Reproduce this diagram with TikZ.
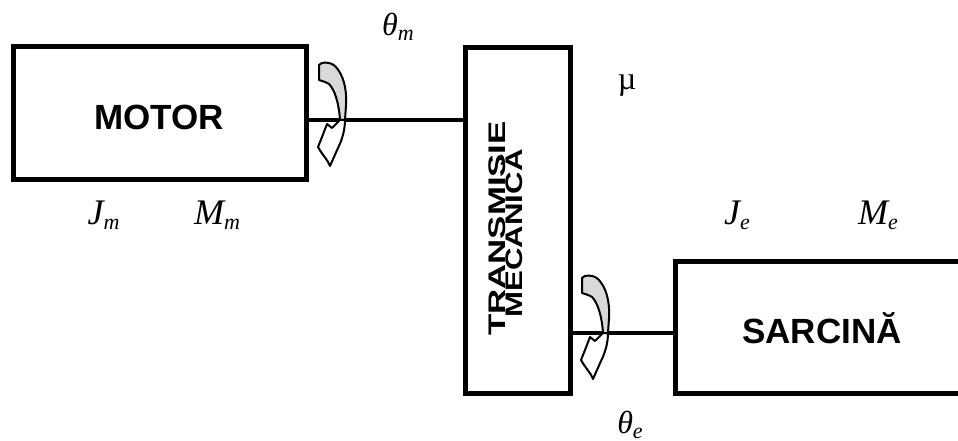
\documentclass[tikz,border=0pt]{standalone}
\usepackage{fontspec}
\newfontfamily\boxfont{Liberation Sans}
\newfontfamily\lserif{Liberation Serif}
\newcommand\qlbl[3]{{\lserif\itshape\fontsize{#1}{#1}\selectfont #2\raisebox{-5pt}{\fontsize{22}{22}\selectfont #3}}}
\tikzset{
  twistarrow/.pic={
    \filldraw[twist, fill=black!15] (-26,-55) .. controls (-24,-58) and (-16,-59) .. (-10,-54) .. controls (-2,-46) and (2,-32) .. (1,-15) -- (0,0) -- (-5,0) .. controls (-6,-16) and (-10,-30) .. (-16,-36) .. controls (-19,-38) and (-23,-39) .. (-26,-40) -- cycle;
    \filldraw[twist, fill=white] (0,0) .. controls (0,10) and (-3,20) .. (-7,28) -- (-15,46) .. controls (-17,40) and (-22,36) .. (-27,27) -- (-23,17) -- (-18,4) -- (-13,8) -- (-5,0) -- cycle;
  }
}
\begin{document}
\begin{tikzpicture}[x=1pt,y=-1pt,
  box/.style={draw, line width=5pt, inner sep=0pt},
  shaft/.style={line width=3.8pt},
  boxlabel/.style={font=\boxfont\bfseries\fontsize{35}{40}\selectfont, inner sep=0pt, anchor=base},
  translabel/.style={font=\boxfont\bfseries\fontsize{24}{28}\selectfont, inner sep=0pt, anchor=base, rotate=90},
  sym/.style={inner sep=0pt, anchor=base},
  twist/.style={draw, line width=2pt, line join=round}
]
\useasboundingbox (0,0) rectangle (958,441);
\clip (0,0) rectangle (958,441);
\fill[white] (0,0) rectangle (958,441);

% boxes
\node[box, minimum width=293pt, minimum height=132pt] (motor) at (159.5,113) {};
\node[box, minimum width=105pt, minimum height=345pt] (trans) at (517.5,220.5) {};
\node[box, minimum width=400pt, minimum height=132pt] (sarcina) at (875,327) {};

% box texts
\node[boxlabel] (motorlbl) at (159,129) {MOTOR};
\node[boxlabel] (sarclbl) at (822,343) {SARCINĂ};
\node[translabel] (translbl1) at (505,228.5) {\scalebox{1.45}[1]{TRANSMISIE}};
\node[translabel] (translbl2) at (522,233.5) {\scalebox{1.3}[1]{MECANICĂ}};

% shafts
\coordinate (s1) at (0,120);
\coordinate (s2) at (0,333);
\draw[shaft] (motor.east |- s1) -- (trans.west |- s1);
\draw[shaft] (trans.east |- s2) -- (sarcina.west |- s2);

% rotation arrows
\pic at (345,120) {twistarrow};
\pic at (608,333) {twistarrow};

% symbols
\node[sym] (thm) at (398,36) {\qlbl{32}{θ}{m}};
\node[sym] (mu) at (627,90) {{\lserif\fontsize{32}{32}\selectfont µ}};
\node[sym] (jm) at (103.5,224) {\qlbl{36}{J}{m}};
\node[sym] (mm) at (217,224) {\qlbl{36}{M}{m}};
\node[sym] (je) at (737,224) {\qlbl{36}{J}{e}};
\node[sym] (me) at (878,224) {\qlbl{36}{M}{e}};
\node[sym] (the) at (630,433) {\qlbl{32}{θ}{e}};
\end{tikzpicture}
\end{document}
